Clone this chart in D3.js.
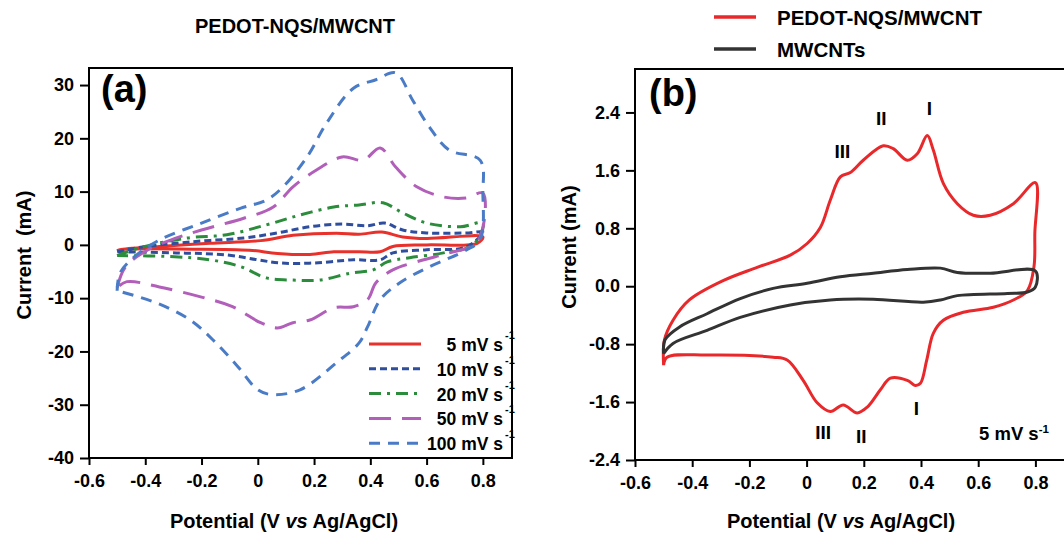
<!DOCTYPE html>
<html>
<head>
<meta charset="utf-8">
<script src="https://cdn.jsdelivr.net/npm/d3@7"></script>
<style>
  body { margin: 0; background: #fff; }
  svg { display: block; font-family: "Liberation Sans", Arial, sans-serif; font-weight: bold; }
</style>
</head>
<body>
<svg id="chart" width="1064" height="535"></svg>
<script>
// ---- data: [potential V, current mA] traced around each CV loop ----
var cv5 = [[-0.5,-1.1],[-0.49,-0.9],[-0.35,-0.3],[-0.17,0.3],[0.01,0.8],[0.125,1.8],[0.28,2.2],[0.36,2.0],[0.44,2.4],[0.515,1.5],[0.6,1.2],[0.8,1.5],
  [0.78,0.3],[0.6,0.0],[0.48,-0.3],[0.435,-1.3],[0.36,-1.3],[0.27,-1.3],[0.185,-1.8],[0.07,-1.6],[-0.03,-1.0],[-0.23,-0.8],[-0.49,-0.9],[-0.5,-1.1]];
var cv10 = [[-0.5,-1.3],[-0.41,-0.4],[-0.23,0.6],[-0.05,1.3],[0.07,2.25],[0.185,3.4],[0.3,3.9],[0.39,3.6],[0.45,4.1],[0.515,2.8],[0.6,2.25],[0.75,2.25],[0.8,2.4],
  [0.74,-0.4],[0.6,-0.9],[0.48,-1.5],[0.435,-2.8],[0.34,-2.8],[0.2,-3.4],[0.08,-3.4],[0.0,-2.8],[-0.11,-1.9],[-0.29,-1.5],[-0.5,-1.3]];
var cv20 = [[-0.5,-2.0],[-0.41,-0.4],[-0.25,1.3],[-0.11,1.9],[0.03,3.75],[0.15,5.6],[0.27,7.1],[0.36,7.5],[0.445,7.9],[0.515,6.0],[0.6,4.1],[0.72,3.4],[0.8,4.1],
  [0.765,0.0],[0.66,-1.5],[0.54,-2.4],[0.46,-3.2],[0.41,-4.7],[0.33,-5.3],[0.22,-6.6],[0.125,-6.6],[0.03,-6.2],[-0.06,-4.1],[-0.17,-2.8],[-0.31,-2.2],[-0.5,-2.0]];
var cv50 = [[-0.5,-8.0],[-0.47,-4.1],[-0.39,-0.9],[-0.31,0.9],[-0.2,2.8],[-0.05,5.0],[0.055,7.1],[0.125,10.9],[0.21,14.1],[0.3,16.5],[0.375,15.9],[0.435,18.2],[0.49,14.6],[0.565,10.9],[0.66,9.0],[0.74,8.8],[0.8,9.7],
  [0.78,0.5],[0.68,-1.5],[0.59,-2.8],[0.48,-4.7],[0.42,-7.1],[0.39,-10.3],[0.34,-11.6],[0.27,-11.8],[0.185,-14.1],[0.125,-14.6],[0.07,-15.6],[0.01,-14.6],[-0.09,-11.6],[-0.2,-9.8],[-0.35,-7.9],[-0.465,-6.9],[-0.5,-8.0]];
var cv100 = [[-0.5,-8.6],[-0.49,-5.3],[-0.44,-2.3],[-0.35,0.9],[-0.2,4.1],[-0.06,6.9],[0.03,8.4],[0.09,10.9],[0.175,16.5],[0.245,22.9],[0.34,29.4],[0.42,31.0],[0.49,32.3],[0.55,27.2],[0.61,22.1],[0.68,17.8],[0.79,15.9],[0.8,9.7],
  [0.79,1.0],[0.74,-1.0],[0.61,-4.1],[0.505,-7.1],[0.435,-10.3],[0.39,-15.4],[0.36,-18.4],[0.28,-22.1],[0.15,-27.2],[0.05,-28.1],[0.0,-27.2],[-0.07,-22.9],[-0.16,-17.8],[-0.24,-14.1],[-0.36,-10.9],[-0.5,-8.6]];

var cvPedot = [[-0.5,-1.09],[-0.497,-0.74],[-0.467,-0.47],[-0.41,-0.19],[-0.29,0.08],[-0.173,0.26],[-0.057,0.43],[0.002,0.59],[0.048,0.81],[0.083,1.19],[0.118,1.51],[0.153,1.57],[0.198,1.74],[0.268,1.94],[0.303,1.9],[0.352,1.74],[0.387,1.83],[0.422,2.08],[0.443,1.88],[0.478,1.42],[0.527,1.14],[0.583,0.98],[0.642,0.98],[0.723,1.14],[0.8,1.43],
  [0.798,0.73],[0.795,0.27],[0.772,-0.06],[0.723,-0.19],[0.653,-0.29],[0.548,-0.36],[0.478,-0.47],[0.443,-0.65],[0.42,-1.02],[0.398,-1.34],[0.38,-1.37],[0.352,-1.3],[0.293,-1.27],[0.258,-1.43],[0.212,-1.67],[0.177,-1.75],[0.128,-1.64],[0.083,-1.73],[0.037,-1.61],[-0.012,-1.3],[-0.068,-1.02],[-0.117,-0.98],[-0.348,-0.95],[-0.488,-0.98],[-0.5,-1.09]];
var cvMwcnt = [[-0.5,-0.93],[-0.495,-0.74],[-0.443,-0.56],[-0.348,-0.38],[-0.232,-0.17],[-0.117,-0.03],[0.002,0.04],[0.118,0.13],[0.233,0.18],[0.352,0.23],[0.468,0.25],[0.527,0.19],[0.642,0.18],[0.8,0.21],
  [0.8,-0.01],[0.772,-0.08],[0.702,-0.1],[0.527,-0.13],[0.468,-0.19],[0.408,-0.22],[0.233,-0.18],[0.083,-0.19],[-0.057,-0.26],[-0.232,-0.43],[-0.348,-0.61],[-0.467,-0.79],[-0.5,-0.93]];

var ratesA = ["5", "10", "20", "50", "100"];
var seriesA = [cv5, cv10, cv20, cv50, cv100];
var colorsA = ["#e8312b", "#2f4f9e", "#2b8c3c", "#b25fba", "#4a7bc6"];
var dashesA = [null, "7,4", "12,6,3,6", "22,11", "11,8"];

var namesB = ["PEDOT-NQS/MWCNT", "MWCNTs"];
var colorsB = ["#e8282a", "#333333"];
var peakLabels = [["I",0.429,2.46],["II",0.261,2.32],["III",0.125,1.86],["I",0.384,-1.68],["II",0.191,-2.07],["III",0.058,-2.01]];

var xTicks = [-0.6,-0.4,-0.2,0,0.2,0.4,0.6,0.8];
var yTicksA = [-40,-30,-20,-10,0,10,20,30];
var yTicksB = [-2.4,-1.6,-0.8,0,0.8,1.6,2.4];

var svg = d3.select("#chart");
var FONT = "Liberation Sans, Arial, sans-serif";

// plain hyphen for negatives, like the original figure
function hy(f) { return function (d) { return f(d).replace("\u2212", "-"); }; }

function styleAxis(a) {
  a.select(".domain").remove();
  a.selectAll("line").attr("stroke-width", 2);
  a.selectAll("text").attr("font-size", 18).attr("font-weight", "bold").attr("fill", "#000")
    .attr("font-family", FONT);
}

function panel(opt) {
  var g = svg.append("g");
  var x = d3.scaleLinear().domain(opt.xdom).range(opt.xr);
  var y = d3.scaleLinear().domain(opt.ydom).range(opt.yr);

  g.append("g").attr("transform", "translate(0," + opt.yr[0] + ")")
    .call(d3.axisBottom(x).tickValues(xTicks).tickSize(7).tickPadding(9).tickSizeOuter(0)
      .tickFormat(hy(function (d) { return d === 0 ? "0" : d3.format(".1f")(d); })))
    .call(styleAxis);
  g.append("g").attr("transform", "translate(" + opt.xr[0] + ",0)")
    .call(d3.axisLeft(y).tickValues(opt.yticks).tickSize(9).tickPadding(6).tickSizeOuter(0).tickFormat(hy(opt.yfmt)))
    .call(styleAxis);

  g.append("rect")
    .attr("x", opt.xr[0]).attr("y", opt.yr[1])
    .attr("width", opt.frameW).attr("height", opt.yr[0] - opt.yr[1])
    .attr("fill", "none").attr("stroke", "#000").attr("stroke-width", 2);

  var line = d3.line()
    .x(function (d) { return x(d[0]); })
    .y(function (d) { return y(d[1]); })
    .curve(d3.curveCatmullRom.alpha(0.5));

  return { g: g, x: x, y: y, line: line };
}

function xTitle(cx) {
  var t = svg.append("text").attr("x", cx).attr("y", 528).attr("text-anchor", "middle").attr("font-size", 20);
  t.append("tspan").text("Potential (V ");
  t.append("tspan").attr("font-style", "italic").text("vs");
  t.append("tspan").text(" Ag/AgCl)");
}

// ---------- panel (a) ----------
var A = panel({
  xdom: [-0.6, 0.9], xr: [89, 511],
  ydom: [-40, 33.2], yr: [458, 68],
  frameW: 423, yticks: yTicksA, yfmt: d3.format("d")
});

seriesA.forEach(function (s, i) {
  A.g.append("path").datum(s)
    .attr("d", A.line)
    .attr("fill", "none")
    .attr("stroke", colorsA[i])
    .attr("stroke-width", 3)
    .attr("stroke-dasharray", dashesA[i]);
});

A.g.append("text").attr("x", 101).attr("y", 102).attr("font-size", 38).text("(a)");

var legA = A.g.append("g");
ratesA.forEach(function (r, i) {
  var yy = 344 + i * 24.8;
  legA.append("line").attr("x1", 369).attr("x2", 421).attr("y1", yy).attr("y2", yy)
    .attr("stroke", colorsA[i]).attr("stroke-width", 3).attr("stroke-dasharray", dashesA[i]);
  legA.append("text").attr("x", 503).attr("y", yy + 7).attr("text-anchor", "end").attr("font-size", 17.5)
    .text(r + " mV s");
  legA.append("text").attr("x", 505).attr("y", yy - 5).attr("font-size", 11).text("-1");
});

svg.append("text").attr("x", 295).attr("y", 33).attr("text-anchor", "middle").attr("font-size", 20).text("PEDOT-NQS/MWCNT");
svg.append("text").attr("transform", "translate(31,255) rotate(-90)").attr("text-anchor", "middle").attr("font-size", 20)
  .attr("xml:space", "preserve").text("Current  (mA)");
xTitle(284);

// ---------- panel (b) ----------
var B = panel({
  xdom: [-0.6, 0.9], xr: [635, 1064],
  ydom: [-2.4, 3.0], yr: [460, 69],
  frameW: 440, yticks: yTicksB, yfmt: d3.format(".1f")
});

[cvPedot, cvMwcnt].forEach(function (s, i) {
  B.g.append("path").datum(s)
    .attr("d", B.line)
    .attr("fill", "none")
    .attr("stroke", colorsB[i])
    .attr("stroke-width", 3);
});

B.g.append("text").attr("x", 649).attr("y", 106).attr("font-size", 38).text("(b)");

peakLabels.forEach(function (p) {
  B.g.append("text").attr("x", B.x(p[1])).attr("y", B.y(p[2])).attr("dy", "0.36em")
    .attr("text-anchor", "middle").attr("font-size", 19).text(p[0]);
});

var sr = B.g.append("text").attr("x", 979).attr("y", 440).attr("font-size", 18.5);
sr.append("tspan").text("5 mV s");
sr.append("tspan").attr("font-size", 11.5).attr("dy", -7).text("-1");

namesB.forEach(function (n, i) {
  var yy = 17 + i * 32;
  svg.append("line").attr("x1", 714).attr("x2", 756).attr("y1", yy).attr("y2", yy)
    .attr("stroke", colorsB[i]).attr("stroke-width", 3.5);
  svg.append("text").attr("x", 777).attr("y", yy + 8).attr("font-size", 20.5).text(n);
});

svg.append("text").attr("transform", "translate(576,247) rotate(-90)").attr("text-anchor", "middle").attr("font-size", 20)
  .text("Current (mA)");
xTitle(841);
</script>
</body>
</html>
